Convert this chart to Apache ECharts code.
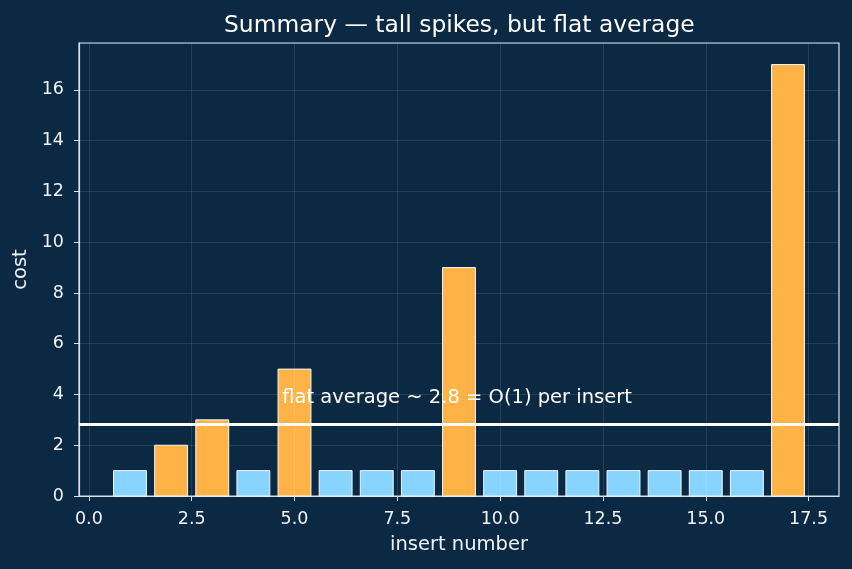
<!DOCTYPE html>
<html>
<head>
    <meta charset="utf-8">
    <title>Summary</title>
    <script src="https://cdn.jsdelivr.net/npm/echarts@6/dist/echarts.min.js"></script>
    <style>
        html, body { margin: 0; padding: 0; background: #0b2942; }
    </style>
</head>
<body>
    <div id="chart" style="width: 852px; height: 569px;"></div>
    <script>
        // data
        const inserts = [1, 2, 3, 4, 5, 6, 7, 8, 9, 10, 11, 12, 13, 14, 15, 16, 17];
        const costs = [1, 2, 3, 1, 5, 1, 1, 1, 9, 1, 1, 1, 1, 1, 1, 1, 17];
        const kinds = ['cheap', 'copy', 'copy', 'cheap', 'copy', 'cheap', 'cheap', 'cheap', 'copy',
                       'cheap', 'cheap', 'cheap', 'cheap', 'cheap', 'cheap', 'cheap', 'copy'];
        const xTicks = [0, 2.5, 5, 7.5, 10, 12.5, 15, 17.5];
        const noteText = 'flat average ~ 2.8 = O(1) per insert';
        const notePos = [4.7, 3.6];

        const avg = costs.reduce((a, b) => a + b, 0) / costs.length;
        const kindColor = { cheap: '#87d5ff', copy: '#ffb347' };
        const font = 'DejaVu Sans';
        const fg = '#eef3f8';
        const gridLine = 'rgba(255,255,255,0.14)';

        const chartDom = document.getElementById('chart');
        const myChart = echarts.init(chartDom);

        const option = {
            backgroundColor: '#0b2942',
            animation: false,
            title: {
                // centred over the plot area, not the canvas
                text: 'Summary \u2014 tall spikes, but flat average',
                left: 219,
                top: 9,
                textStyle: { color: '#ffffff', fontFamily: font, fontSize: 23.4, fontWeight: 'normal' }
            },
            grid: {
                left: 79, right: 13, top: 43, bottom: 73,
                show: true, borderColor: '#d6e2ee', borderWidth: 1.2
            },
            xAxis: {
                type: 'value',
                min: -0.24, max: 18.24,
                name: 'insert number',
                nameLocation: 'middle',
                nameGap: 39,
                nameTextStyle: { color: fg, fontFamily: font, fontSize: 19.5 },
                axisLine: { show: true, onZero: false, lineStyle: { color: '#d6e2ee', width: 1.2 } },
                axisTick: { show: true, customValues: xTicks, length: 5, lineStyle: { color: '#d6e2ee' } },
                axisLabel: {
                    customValues: xTicks, color: fg, fontFamily: font, fontSize: 17.5, margin: 14,
                    formatter: v => v.toFixed(1)
                },
                splitLine: { show: false }
            },
            yAxis: {
                type: 'value',
                min: 0, max: 17.85, interval: 2,
                name: 'cost',
                nameLocation: 'middle',
                nameGap: 46,
                nameTextStyle: { color: fg, fontFamily: font, fontSize: 19.5 },
                axisLine: { show: true, onZero: false, lineStyle: { color: '#d6e2ee', width: 1.2 } },
                axisTick: { show: true, length: 5, lineStyle: { color: '#d6e2ee' } },
                axisLabel: { color: fg, fontFamily: font, fontSize: 17.5, margin: 15, showMaxLabel: false },
                splitLine: { show: true, lineStyle: { color: gridLine, width: 0.8 } }
            },
            series: [
                {
                    // vertical grid lines at the x ticks
                    type: 'line',
                    data: [],
                    z: 1,
                    silent: true,
                    markLine: {
                        silent: true,
                        symbol: 'none',
                        label: { show: false },
                        lineStyle: { color: gridLine, width: 0.8, type: 'solid' },
                        data: xTicks.map(v => ({ xAxis: v }))
                    }
                },
                {
                    type: 'custom',
                    z: 2,
                    data: inserts.map((x, i) => [x, costs[i], kinds[i]]),
                    renderItem: function (params, api) {
                        const x = api.value(0);
                        const y = api.value(1);
                        const p0 = api.coord([x - 0.4, 0]);
                        const p1 = api.coord([x + 0.4, y]);
                        return {
                            type: 'rect',
                            shape: { x: p0[0], y: p1[1], width: p1[0] - p0[0], height: p0[1] - p1[1] },
                            style: {
                                fill: kindColor[kinds[params.dataIndex]],
                                stroke: '#f4f8fc',
                                lineWidth: 1
                            }
                        };
                    }
                },
                {
                    type: 'line',
                    data: [],
                    z: 3,
                    markLine: {
                        silent: true,
                        symbol: 'none',
                        label: { show: false },
                        lineStyle: { color: '#ffffff', width: 3, type: 'solid' },
                        data: [{ yAxis: avg }]
                    }
                },
                {
                    type: 'custom',
                    z: 4,
                    data: [notePos],
                    renderItem: function (params, api) {
                        const p = api.coord([api.value(0), api.value(1)]);
                        return {
                            type: 'text',
                            x: p[0], y: p[1] + 3,
                            style: {
                                text: noteText,
                                fill: '#ffffff',
                                font: '19.5px "DejaVu Sans"',
                                textAlign: 'left',
                                textVerticalAlign: 'bottom'
                            }
                        };
                    }
                }
            ]
        };

        myChart.setOption(option);
    </script>
</body>
</html>
